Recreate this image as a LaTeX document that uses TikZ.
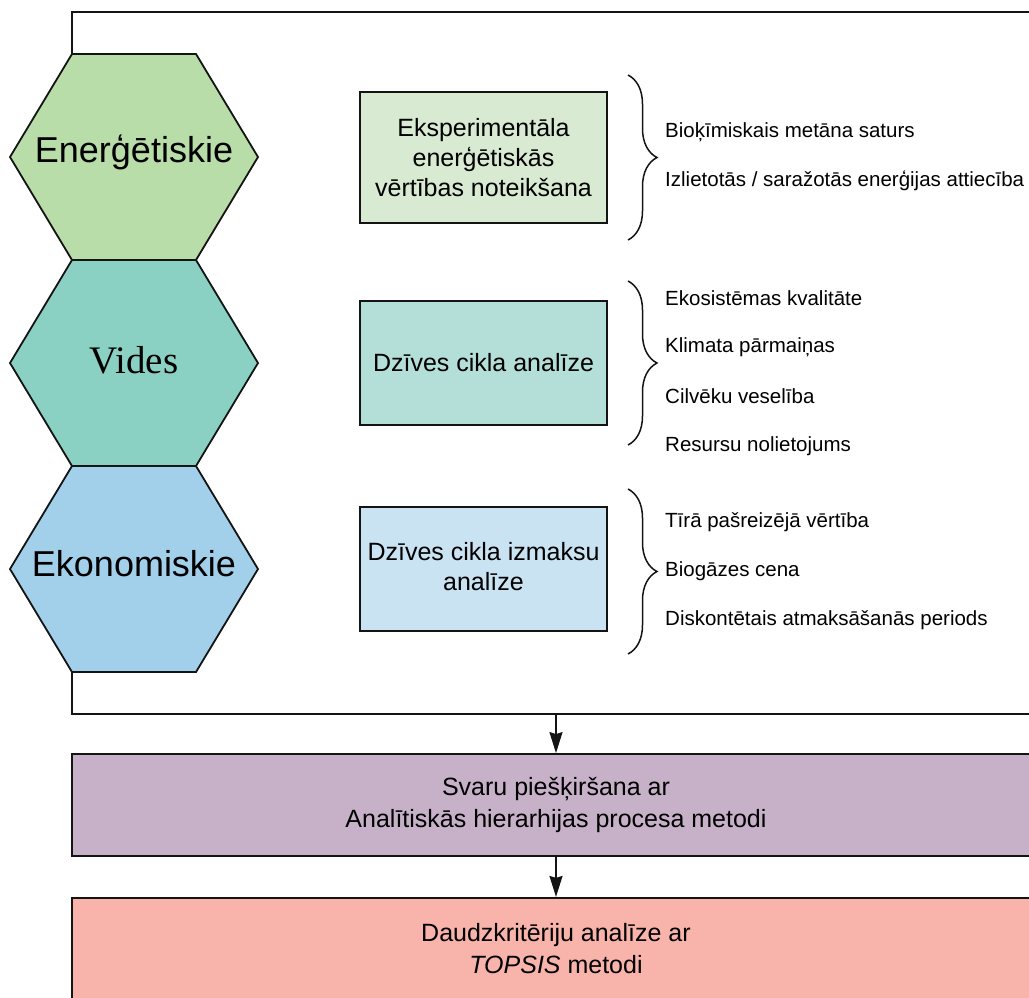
\documentclass[tikz,border=0pt]{standalone}
\usepackage{fontspec}
\setmainfont{Liberation Sans}
\newfontfamily\videsfont{Liberation Serif}
\usetikzlibrary{positioning, arrows.meta, decorations.pathreplacing}
\definecolor{hexgreen}{RGB}{185,221,168}
\definecolor{hexteal}{RGB}{138,209,196}
\definecolor{hexblue}{RGB}{162,208,234}
\definecolor{boxgreen}{RGB}{216,234,210}
\definecolor{boxteal}{RGB}{179,223,216}
\definecolor{boxblue}{RGB}{201,227,242}
\definecolor{ahpviolet}{RGB}{199,177,201}
\definecolor{topsisrose}{RGB}{248,179,170}
\definecolor{lineblack}{RGB}{20,20,20}

\begin{document}
\begin{tikzpicture}[x=1pt, y=-1pt,
      hexline/.style={draw=lineblack, line width=1.8pt, line join=miter},
      hexlbl/.style={font=\fontsize{36}{40}\selectfont},
      blk/.style={rectangle, draw=lineblack, line width=1.8pt, minimum width=247pt,
                  minimum height=124pt, align=center, font=\fontsize{25}{30}\selectfont},
      wide/.style={rectangle, draw=lineblack, line width=1.8pt, minimum width=968pt,
                  minimum height=102pt, align=center, font=\fontsize{25}{32}\selectfont},
      item/.style={anchor=west, inner sep=0pt, font=\fontsize{20.5}{24}\selectfont},
      brc/.style={decorate, decoration={brace, amplitude=29pt}, line width=1.5pt, lineblack},
      arr/.style={-{Stealth[length=21pt, width=13pt, inset=2pt]}, line width=1.8pt, lineblack}]
    \useasboundingbox (0,0) rectangle (1029,997);
    % frame round the three groups
    \draw[hexline] (72,54) -- (72,12) -- (1041,12) -- (1041,714) -- (72,714) -- (72,672);
    \coordinate (frameS) at (556,714);
    % hexagons
    \foreach \y/\c in {157/hexgreen, 363/hexteal, 569/hexblue}
      \draw[hexline, fill=\c, shift={(134,\y)}]
        (-124,0) -- (-62,-103) -- (62,-103) -- (124,0) -- (62,103) -- (-62,103) -- cycle;
    \node[hexlbl] (energ) at (134,152) {Enerģētiskie};
    \node[font=\videsfont\fontsize{39}{44}\selectfont] (vides) at (134,360) {Vides};
    \node[hexlbl] (ekon) at (134,564) {Ekonomiskie};
    % methods
    \node[blk, fill=boxgreen, minimum height=131pt] (exper) at (483.5,157.5)
      {Eksperimentāla\\ enerģētiskās\\ vērtības noteikšana};
    \node[blk, fill=boxteal] (lca) at (483.5,363) {Dzīves cikla analīze};
    \node[blk, fill=boxblue] (lcc) at (483.5,569) {Dzīves cikla izmaksu\\ analīze\vphantom{p}};
    % braces
    \draw[brc] (628,75) -- (628,240);
    \draw[brc] (628,281) -- (628,445);
    \draw[brc] (628,489) -- (628,654);
    % indicators
    \node[item] (bmp) at (665,132) {Bioķīmiskais metāna saturs};
    \node[item] (eroi) at (665,181) {Izlietotās / saražotās enerģijas attiecība};
    \node[item] (eko) at (665,298) {Ekosistēmas kvalitāte};
    \node[item] (klim) at (665,347) {Klimata pārmaiņas};
    \node[item] (cilv) at (665,396) {Cilvēku veselība};
    \node[item] (res) at (665,446) {Resursu nolietojums};
    \node[item] (npv) at (665,522) {Tīrā pašreizējā vērtība};
    \node[item] (cena) at (665,571) {Biogāzes cena};
    \node[item] (dpp) at (665,620) {Diskontētais atmaksāšanās periods};
    % weighting and ranking
    \node[wide, fill=ahpviolet] (ahp) at (556,805)
      {Svaru piešķiršana ar\\ Analītiskās hierarhijas procesa metodi};
    \node[wide, fill=topsisrose, below=40pt of ahp] (topsis)
      {Daudzkritēriju analīze ar\\ \textit{TOPSIS} metodi};
    \draw[arr] (frameS) -- (ahp.north);
    \draw[arr] (ahp.south) -- (topsis.north);
  \end{tikzpicture}
\end{document}
